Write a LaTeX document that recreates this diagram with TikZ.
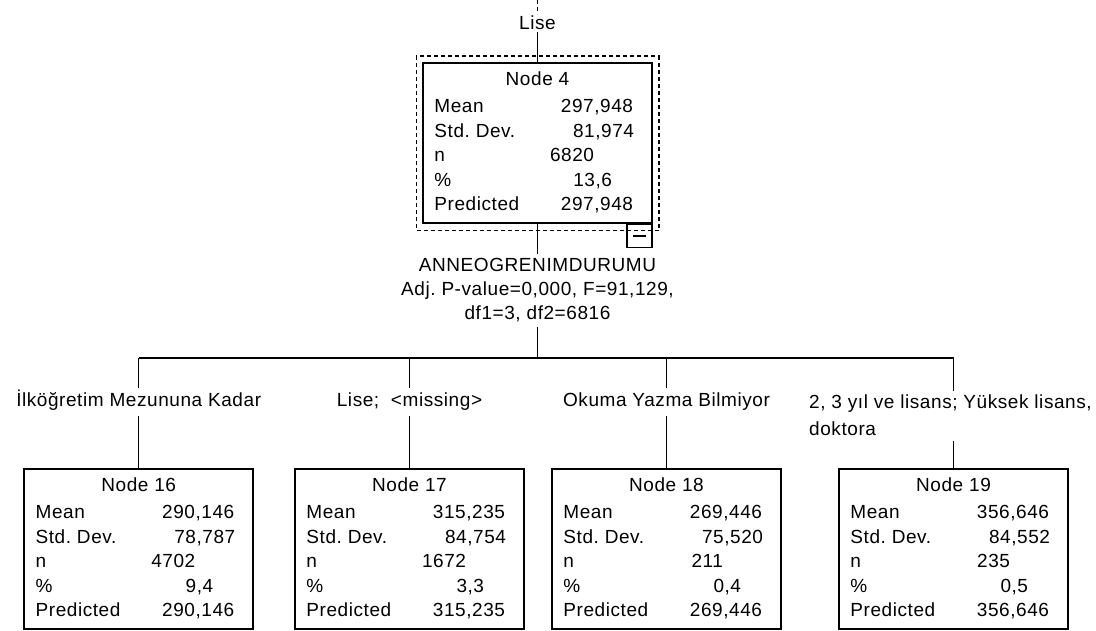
\documentclass[tikz,border=0pt]{standalone}
\usepackage{fontspec}
\setmainfont{Liberation Sans}[LetterSpace=3]
\frenchspacing
\tikzset{
  treebox/.style={draw, line width=1.5pt, minimum width=229pt, minimum height=160pt, inner sep=0pt, anchor=north},
  rowtext/.style={inner sep=0pt, font=\fontsize{19}{24}\selectfont},
  branchlabel/.style={inner xsep=0pt, inner ysep=4.5pt, text height=14pt, text depth=4pt, font=\fontsize{19}{24}\selectfont},
  link/.style={line width=1.5pt},
}
% one statistics box: name, title, mean, std. dev., n, %, predicted
\newcommand{\statbox}[7]{%
  \node[rowtext, anchor=base] (#1-head) at ([yshift=-23]#1.north) {#2};
  \node[rowtext, anchor=base west] (#1-mean) at ([shift={(12,-50.7)}]#1.north west) {Mean};
  \node[rowtext, anchor=base east] (#1-meanv) at ([shift={(211,-50.7)}]#1.north west) {#3};
  \node[rowtext, anchor=base west] (#1-sd) at ([shift={(12,-75.2)}]#1.north west) {Std. Dev.};
  \node[rowtext, anchor=base east] (#1-sdv) at ([shift={(212,-75.2)}]#1.north west) {#4};
  \node[rowtext, anchor=base west] (#1-n) at ([shift={(12,-99.7)}]#1.north west) {n};
  \node[rowtext, anchor=base east] (#1-nv) at ([shift={(172,-99.7)}]#1.north west) {#5};
  \node[rowtext, anchor=base west] (#1-pct) at ([shift={(12,-124.2)}]#1.north west) {\%};
  \node[rowtext, anchor=base east] (#1-pctv) at ([shift={(190,-124.2)}]#1.north west) {#6};
  \node[rowtext, anchor=base west] (#1-pred) at ([shift={(12,-148.7)}]#1.north west) {Predicted};
  \node[rowtext, anchor=base east] (#1-predv) at ([shift={(211,-148.7)}]#1.north west) {#7};
}

\begin{document}
\begin{tikzpicture}[x=1pt,y=1pt]
\useasboundingbox (0,0) rectangle (1096,-630);

% parent node
\coordinate (top) at (537.5,0);
\node[branchlabel, text height=13.6pt, text depth=0pt, inner ysep=2pt, anchor=base] (lise) at (537.5,-29.8) {Lise};
\node[treebox] (n4) at (537.5,-62) {};
\statbox{n4}{Node 4}{297,948}{81,974}{6820}{13,6}{297,948}
\draw[link, dash pattern=on 4pt off 3pt] ([shift={(-6,6)}]n4.north west) rectangle ([shift={(6,-7)}]n4.south east);
\node[draw, line width=1.5pt, minimum width=25pt, minimum height=23pt, inner sep=0pt, anchor=north east] (fold) at (n4.south east) {};
\draw[link] ([xshift=-6.5]fold.center) -- ([xshift=6.5]fold.center);
\draw[link, dash pattern=on 4pt off 3pt] (top) -- (lise.north);
\draw[link] (lise.south) -- (n4.north);

% split
\node[rowtext, align=center, inner ysep=4.5pt, anchor=north] (split) at (537.5,-254) {ANNEOGRENIMDURUMU\\Adj. P-value=0,000, F=91,129,\\df1=3, df2=6816};
\draw[link] (n4.south) -- (split.north);
\coordinate (hub) at (537.5,-358);
\draw[link] (split.south) -- (hub);

\coordinate (j16) at (138.7,-358);
\coordinate (j17) at (409.5,-358);
\coordinate (j18) at (666.5,-358);
\coordinate (j19) at (953.5,-358);
\draw[link] (j16) -- (j19);

% branch labels
\node[branchlabel, anchor=base] (lbl16) at (138.7,-406.8) {İlköğretim Mezununa Kadar};
\node[branchlabel, anchor=base] (lbl17) at (409.5,-406.8) {Lise;\ \ <missing>};
\node[branchlabel, anchor=base] (lbl18) at (666.5,-406.8) {Okuma Yazma Bilmiyor};
\node[rowtext, align=left, inner ysep=4.5pt, font=\fontsize{19}{27}\selectfont, anchor=north west] (lbl19) at (809,-390.5) {2, 3 yıl ve lisans; Yüksek lisans,\\doktora};

% child nodes
\node[treebox] (n16) at (138.7,-468) {};
\node[treebox] (n17) at (409.5,-468) {};
\node[treebox] (n18) at (666.5,-468) {};
\node[treebox] (n19) at (953.5,-468) {};
\statbox{n16}{Node 16}{290,146}{78,787}{4702}{9,4}{290,146}
\statbox{n17}{Node 17}{315,235}{84,754}{1672}{3,3}{315,235}
\statbox{n18}{Node 18}{269,446}{75,520}{211}{0,4}{269,446}
\statbox{n19}{Node 19}{356,646}{84,552}{235}{0,5}{356,646}

\draw[link] (j16) -- (lbl16.north);
\draw[link] (lbl16.south) -- (n16.north);
\draw[link] (j17) -- (lbl17.north);
\draw[link] (lbl17.south) -- (n17.north);
\draw[link] (j18) -- (lbl18.north);
\draw[link] (lbl18.south) -- (n18.north);
\draw[link] (j19) -- (j19 |- lbl19.north);
\draw[link] (n19.north |- lbl19.south) -- (n19.north);
\end{tikzpicture}
\end{document}
